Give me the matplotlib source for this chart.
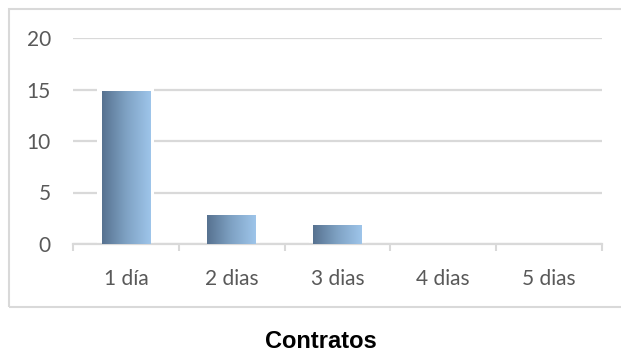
import numpy as np
import matplotlib.pyplot as plt
from matplotlib.colors import LinearSegmentedColormap
from matplotlib.patches import Rectangle

categorias = ["1 día", "2 dias", "3 dias", "4 dias", "5 dias"]
valores = [14.8, 2.8, 1.8, 0, 0]
yticks = [0, 5, 10, 15, 20]

gris_txt = "#595959"
gris_linea = "#d9d9d9"
cmap = LinearSegmentedColormap.from_list("barra", ["#577290", "#7fa2c4", "#9ec5ea"])

fig = plt.figure(figsize=(6.21, 3.52), dpi=100)
ax = fig.add_axes([73 / 621, 108 / 352, 529 / 621, 206 / 352])

# marco exterior
fig.patches.append(Rectangle((8.5 / 621, 45.5 / 352), 700 / 621, 298 / 352,
                             transform=fig.transFigure, fill=False,
                             edgecolor=gris_linea, linewidth=1.5, zorder=0))

ancho = 0.46
x = np.arange(len(categorias))

grad = np.linspace(0, 1, 256).reshape(1, -1)
for xi, v in zip(x, valores):
    if v <= 0:
        continue
    # halo blanco alrededor de la barra
    ax.add_patch(Rectangle((xi - ancho / 2 - 0.04, 0), ancho + 0.08, v + 0.4,
                           facecolor="white", edgecolor="none", zorder=2))
    ax.imshow(grad, cmap=cmap, aspect="auto", zorder=3,
              extent=(xi - ancho / 2, xi + ancho / 2, 0, v))
ax.set_xlim(-0.5, len(categorias) - 0.5)
ax.set_ylim(0, 20)

ax.set_yticks(yticks)
ax.yaxis.grid(True, color=gris_linea, linewidth=1.6)
ax.set_axisbelow(True)
ax.tick_params(axis="y", length=0, pad=16, labelsize=15, labelcolor=gris_txt)

ax.set_xticks(x)
ax.set_xticklabels(categorias)
ax.set_xticks(np.arange(-0.5, len(categorias)), minor=True)
ax.tick_params(axis="x", which="major", length=0, pad=18, labelsize=15, labelcolor=gris_txt)
ax.tick_params(axis="x", which="minor", length=5, width=1.5, color=gris_linea)

for lado in ["top", "right", "left"]:
    ax.spines[lado].set_visible(False)
ax.spines["bottom"].set_color(gris_linea)
ax.spines["bottom"].set_linewidth(1.6)

for lab in ax.get_xticklabels() + ax.get_yticklabels():
    lab.set_family(["Lato", "DejaVu Sans"])

fig.text(321 / 621, 1 - 341 / 352, "Contratos", ha="center", va="center",
         fontsize=17, fontweight="bold", family=["Liberation Sans", "DejaVu Sans"])

fig.savefig("out.png", dpi=100)
